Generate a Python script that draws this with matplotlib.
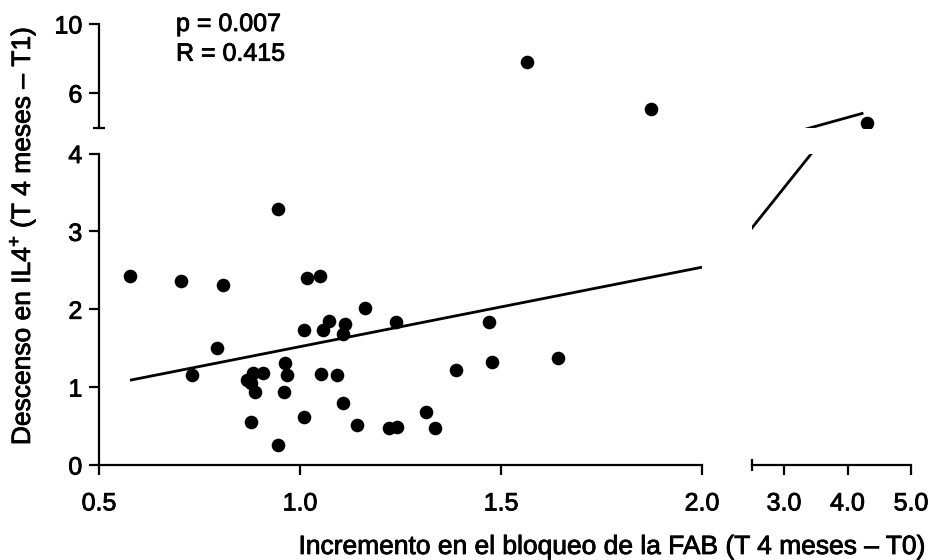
import numpy as np
import matplotlib
matplotlib.use("Agg")
import matplotlib.pyplot as plt
import matplotlib.patheffects as pe

plt.rcParams['font.family'] = ['Liberation Sans', 'DejaVu Sans']
plt.rcParams['mathtext.fontset'] = 'custom'
plt.rcParams['mathtext.rm'] = 'Liberation Sans'

# Incremento FAB (x) vs descenso IL4+ (y), un punto por paciente
fab_inc = np.array([
    0.577, 0.704, 0.809, 0.946, 1.017, 1.050, 1.162, 1.240, 1.470, 1.009,
    1.056, 1.073, 1.113, 1.106, 0.793, 1.477, 1.389, 0.732, 0.963, 0.967,
    1.051, 1.091, 0.867, 0.884, 0.909, 0.878, 0.888, 0.960, 1.108, 0.878,
    1.009, 1.143, 1.222, 1.241, 1.313, 1.337, 0.946, 1.643, 1.564, 1.873,
    4.30,
])
il4_desc = np.array([
    2.43, 2.36, 2.31, 3.29, 2.40, 2.43, 2.01, 1.83, 1.835, 1.73,
    1.73, 1.85, 1.81, 1.68, 1.50, 1.32, 1.22, 1.15, 1.31, 1.16,
    1.17, 1.16, 1.09, 1.18, 1.18, 1.05, 0.94, 0.94, 0.79, 0.55,
    0.62, 0.52, 0.47, 0.49, 0.68, 0.47, 0.26, 1.38, 7.77, 5.08,
    4.27,
])

# recta de regresión
reg_intercept = 0.50
reg_slope = 1.02
reg_x = np.array([0.577, 4.25])

p_text = "p = 0.007"
r_text = "R = 0.415"

W, H = 933, 560
fig = plt.figure(figsize=(W / 100, H / 100), dpi=100)

# trazo fino para engrosar un poco las letras
grueso = [pe.withStroke(linewidth=0.6, foreground='black')]


def caja(x0, x1, ytop, ybot):
    return [x0 / W, 1 - ybot / H, (x1 - x0) / W, (ybot - ytop) / H]


ax_ll = fig.add_axes(caja(99, 702, 153.5, 465))
ax_ul = fig.add_axes(caja(99, 702, 24, 127.5))
ax_lr = fig.add_axes(caja(752.3, 911, 153.5, 465))
ax_ur = fig.add_axes(caja(752.3, 911, 24, 127.5))

for ax in (ax_ll, ax_ul, ax_lr, ax_ur):
    ax.patch.set_visible(False)
    for s in ax.spines.values():
        s.set_visible(False)
        s.set_linewidth(1.6)
    ax.plot(reg_x, reg_intercept + reg_slope * reg_x, color='black', lw=2.0,
            solid_capstyle='butt', zorder=2)
    ax.plot(fab_inc, il4_desc, 'o', color='black', ms=9.8, mec='none', zorder=3)
    ax.tick_params(which='both', width=1.6, labelsize=18, length=7)

ax_ll.set_xlim(0.5, 2.0)
ax_ul.set_xlim(0.5, 2.0)
ax_lr.set_xlim(2.5, 5.0)
ax_ur.set_xlim(2.5, 5.0)
ax_ll.set_ylim(0, 4)
ax_lr.set_ylim(0, 4)
ax_ul.set_ylim(4, 10)
ax_ur.set_ylim(4, 10)

# panel inferior izquierdo
ax_ll.spines['left'].set_visible(True)
ax_ll.spines['bottom'].set_visible(True)
ax_ll.set_xticks([0.5, 1.0, 1.5, 2.0], ['0.5', '1.0', '1.5', '2.0'])
ax_ll.set_yticks([0, 1, 2, 3, 4], ['0', '1', '2', '3', '4'])
ax_ll.set_xticks([2.0], minor=True)
ax_ll.set_yticks([4], minor=True)
ax_ll.tick_params(which='minor', direction='in', length=4.5)
ax_ll.tick_params(axis='x', which='major', pad=12)
ax_ll.tick_params(axis='y', which='major', pad=5)

# panel superior izquierdo
ax_ul.spines['left'].set_visible(True)
ax_ul.set_xticks([])
ax_ul.set_yticks([6, 10], ['6', '10'])
ax_ul.set_yticks([4], minor=True)
ax_ul.tick_params(axis='y', which='minor', direction='inout', length=9)
ax_ul.tick_params(axis='y', which='major', pad=5)

# panel inferior derecho
ax_lr.spines['bottom'].set_visible(True)
ax_lr.set_xticks([3.0, 4.0, 5.0], ['3.0', '4.0', '5.0'])
ax_lr.set_xticks([2.5], minor=True)
ax_lr.tick_params(axis='x', which='minor', direction='inout', length=9)
ax_lr.tick_params(axis='x', which='major', pad=12)
ax_lr.set_yticks([])

# panel superior derecho
ax_ur.set_xticks([])
ax_ur.set_yticks([])

for ax in (ax_ll, ax_ul, ax_lr):
    for lab in ax.get_xticklabels() + ax.get_yticklabels():
        lab.set_path_effects(grueso)

fig.text(176 / W, 1 - 12 / H, p_text + "\n" + r_text, fontsize=18,
         ha='left', va='top', linespacing=1.3, path_effects=grueso)
fig.text(612 / W, 1 - 547 / H,
         "Incremento en el bloqueo de la FAB (T 4 meses – T0)",
         fontsize=19, ha='center', va='center', path_effects=grueso)
fig.text(22 / W, 1 - 236 / H,
         "Descenso en IL4$^{+}$ (T 4 meses – T1)",
         fontsize=19, ha='center', va='center', rotation=90,
         path_effects=grueso)

fig.savefig("out.png", dpi=100)
